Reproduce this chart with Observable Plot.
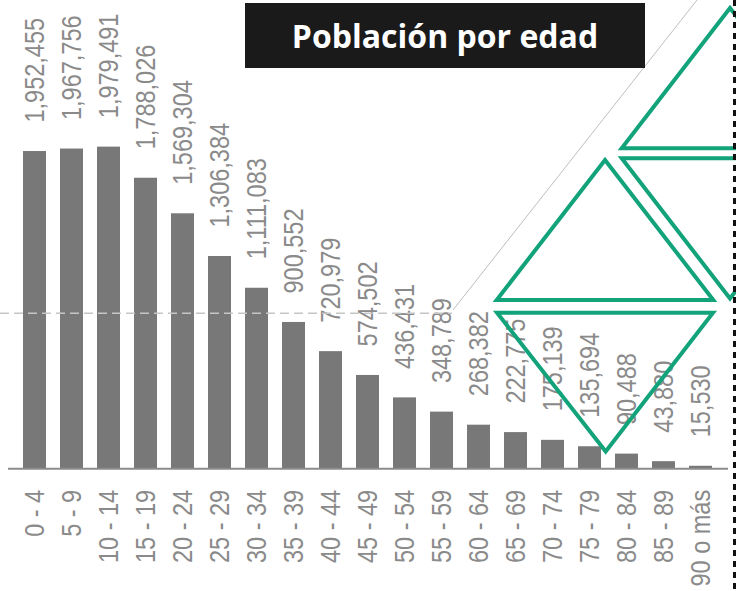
<!DOCTYPE html>
<html>
<head>
<meta charset="utf-8">
<script src="https://cdn.jsdelivr.net/npm/d3@7"></script>
<script src="https://cdn.jsdelivr.net/npm/@observablehq/plot@0.6"></script>
<style>
  html, body { margin: 0; padding: 0; background: #fff; }
  #wrap { position: relative; width: 736px; height: 591px; overflow: hidden; }
  #chart { position: absolute; left: 0; top: 0; }
  #deco { position: absolute; left: 0; top: 0; pointer-events: none; }
  #title {
    position: absolute; left: 245px; top: 3px; width: 400px; height: 65px;
    background: #1a1a1a; color: #fff;
    font-family: "Open Sans", "Noto Sans", sans-serif; font-weight: 700; font-size: 32px;
    display: flex; align-items: center; justify-content: center; white-space: nowrap;
  }
</style>
</head>
<body>
<div id="wrap">
  <div id="chart"></div>
  <svg id="deco" width="736" height="591" viewBox="0 0 736 591">
    <line x1="0" y1="313.3" x2="452" y2="313.3" stroke="#c6c6c6" stroke-width="1.5" stroke-dasharray="9,5"/>
    <line x1="453" y1="310" x2="697" y2="0" stroke="#bdbdbd" stroke-width="1"/>
    <g fill="none" stroke="#12a37b" stroke-width="4" stroke-linejoin="miter">
      <polygon points="730,8 838,148.3 621.7,148.3"/>
      <polygon points="621.7,158.3 838,158.3 730,298.5"/>
      <polygon points="605,160 713.3,300 496.7,300"/>
      <polygon points="497,312.7 713,312.7 605.7,451.5"/>
    </g>
    <line x1="734.5" y1="0" x2="734.5" y2="591" stroke="#111" stroke-width="3" stroke-dasharray="6,5"/>
  </svg>
  <div id="title">Población por edad</div>
</div>
<script>
const ageGroups = ["0 - 4", "5 - 9", "10 - 14", "15 - 19", "20 - 24", "25 - 29", "30 - 34", "35 - 39",
  "40 - 44", "45 - 49", "50 - 54", "55 - 59", "60 - 64", "65 - 69", "70 - 74", "75 - 79",
  "80 - 84", "85 - 89", "90 o más"];
const population = [1952455, 1967756, 1979491, 1788026, 1569304, 1306384, 1111083, 900552,
  720979, 574502, 436431, 348789, 268382, 222775, 175139, 135694, 90488, 43880, 15530];

const data = ageGroups.map((g, i) => ({group: g, value: population[i]}));
const fmt = d3.format(",");
const labelFont = '"Liberation Sans", Arial, sans-serif';

const chart = Plot.plot({
  width: 736,
  height: 591,
  marginLeft: 8,
  marginRight: 8,
  marginTop: 143.3,
  marginBottom: 122.7,
  x: {domain: ageGroups, padding: 0.37},
  y: {domain: [0, 2000000], axis: null},
  style: {fontFamily: labelFont, background: "transparent", overflow: "visible"},
  marks: [
    Plot.barY(data, {x: "group", y: "value", fill: "#787878"}),
    Plot.ruleY([0], {stroke: "#8c8c8c", strokeWidth: 2}),
    Plot.text(data, {
      x: "group", y: "value", text: d => fmt(d.value),
      rotate: -90, textAnchor: "start", lineAnchor: "middle", dy: -29,
      fontSize: 28, fill: "#8a8a8a", fontFamily: labelFont
    }),
    Plot.axisX({
      tickRotate: -90, tickSize: 0, tickPadding: 21, fontSize: 28,
      color: "#8a8a8a", label: null, fontFamily: labelFont
    })
  ]
});
// condense the rotated labels along their reading direction (narrow face)
d3.select(chart).selectAll("text").each(function() {
  const t = this.getAttribute("transform");
  if (t && t.includes("rotate")) this.setAttribute("transform", t + " scale(0.84,1)");
});
document.getElementById("chart").appendChild(chart);
</script>
</body>
</html>
